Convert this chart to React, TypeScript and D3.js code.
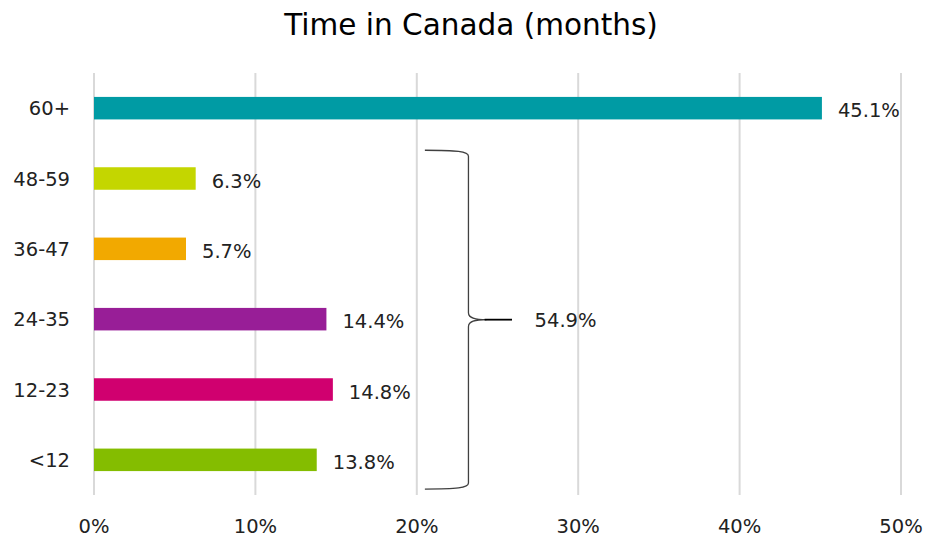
import { useEffect, useRef } from "react";
import * as d3 from "d3";

// Share of respondents by time in Canada (months)
const categories = ["60+", "48-59", "36-47", "24-35", "12-23", "<12"];
const values = [45.1, 6.3, 5.7, 14.4, 14.8, 13.8];
const colors = ["#009ba4", "#c4d600", "#f2a900", "#981e97", "#d0006f", "#84bd00"];
const xTicks = [0, 10, 20, 30, 40, 50];
const title = "Time in Canada (months)";
// bracket groups everything under 60 months
const braceGroup = ["48-59", "36-47", "24-35", "12-23", "<12"];
const braceLabel = "54.9%";

const W = 926;
const H = 539;
const M = { top: 73, right: 25, bottom: 44, left: 94 };
const FONT = "'Century Gothic', 'DejaVu Sans', sans-serif";
const FS = 19.5;

export default function App() {
  const svgRef = useRef<SVGSVGElement>(null);

  useEffect(() => {
    document.body.style.margin = "0";
    const svg = d3.select(svgRef.current!);
    svg.selectAll("*").remove();

    const x = d3.scaleLinear().domain([0, 50]).range([M.left, 901]);
    const y = d3
      .scaleBand<string>()
      .domain(categories)
      .range([M.top, H - M.bottom])
      .paddingInner(0.68)
      .paddingOuter(0.34);

    svg
      .append("text")
      .attr("x", 471)
      .attr("y", 35)
      .attr("text-anchor", "middle")
      .attr("font-size", 29.5)
      .attr("fill", "#000")
      .text(title);

    // gridlines
    svg
      .append("g")
      .selectAll("line")
      .data(xTicks)
      .join("line")
      .attr("x1", (d) => x(d))
      .attr("x2", (d) => x(d))
      .attr("y1", M.top)
      .attr("y2", H - M.bottom)
      .attr("stroke", "#d9d9d9")
      .attr("stroke-width", 2);

    // x tick labels
    svg
      .append("g")
      .selectAll("text")
      .data(xTicks)
      .join("text")
      .attr("x", (d) => x(d))
      .attr("y", 533)
      .attr("text-anchor", "middle")
      .attr("font-size", FS)
      .attr("fill", "#222")
      .text((d) => `${d}%`);

    const rows = categories.map((c, i) => ({ c, v: values[i], col: colors[i] }));

    svg
      .append("g")
      .selectAll("rect")
      .data(rows)
      .join("rect")
      .attr("x", x(0))
      .attr("y", (d) => y(d.c)!)
      .attr("width", (d) => x(d.v) - x(0))
      .attr("height", y.bandwidth())
      .attr("fill", (d) => d.col);

    // category labels
    svg
      .append("g")
      .selectAll("text")
      .data(rows)
      .join("text")
      .attr("x", 70)
      .attr("y", (d) => y(d.c)! + y.bandwidth() / 2 + 7)
      .attr("text-anchor", "end")
      .attr("font-size", FS)
      .attr("fill", "#222")
      .text((d) => d.c);

    // value labels
    svg
      .append("g")
      .selectAll("text")
      .data(rows)
      .join("text")
      .attr("x", (d) => x(d.v) + 16)
      .attr("y", (d) => y(d.c)! + y.bandwidth() / 2 + 9)
      .attr("text-anchor", "start")
      .attr("font-size", FS)
      .attr("fill", "#222")
      .text((d) => `${d.v}%`);

    // curly bracket
    const top = y(braceGroup[0])! - 17;
    const bot = y(braceGroup[braceGroup.length - 1])! + y.bandwidth() + 18;
    const mid = (top + bot) / 2;
    const xa = x(20.5);
    const xb = x(23.2);
    const xt = x(24.2);
    const xe = x(25.9);
    const path = d3.path();
    path.moveTo(xa, top);
    path.bezierCurveTo(xb - 12, top, xb, top + 1, xb, top + 6);
    path.lineTo(xb, mid - 7);
    path.bezierCurveTo(xb, mid - 1, xt - 8, mid, xt + 2, mid);
    path.moveTo(xb, bot - 6);
    path.lineTo(xb, mid + 7);
    path.bezierCurveTo(xb, mid + 1, xt - 8, mid, xt + 2, mid);
    path.moveTo(xb, bot - 6);
    path.bezierCurveTo(xb, bot - 1, xb - 12, bot, xa, bot);
    svg
      .append("path")
      .attr("d", path.toString())
      .attr("fill", "none")
      .attr("stroke", "#404040")
      .attr("stroke-width", 1.3);
    svg
      .append("line")
      .attr("x1", xt)
      .attr("x2", xe)
      .attr("y1", mid)
      .attr("y2", mid)
      .attr("stroke", "#000")
      .attr("stroke-width", 1.8);

    svg
      .append("text")
      .attr("x", x(27.3))
      .attr("y", mid + 7)
      .attr("font-size", FS)
      .attr("fill", "#222")
      .text(braceLabel);
  }, []);

  return (
    <svg
      ref={svgRef}
      width={W}
      height={H}
      style={{ display: "block", fontFamily: FONT, background: "#fff" }}
    />
  );
}
